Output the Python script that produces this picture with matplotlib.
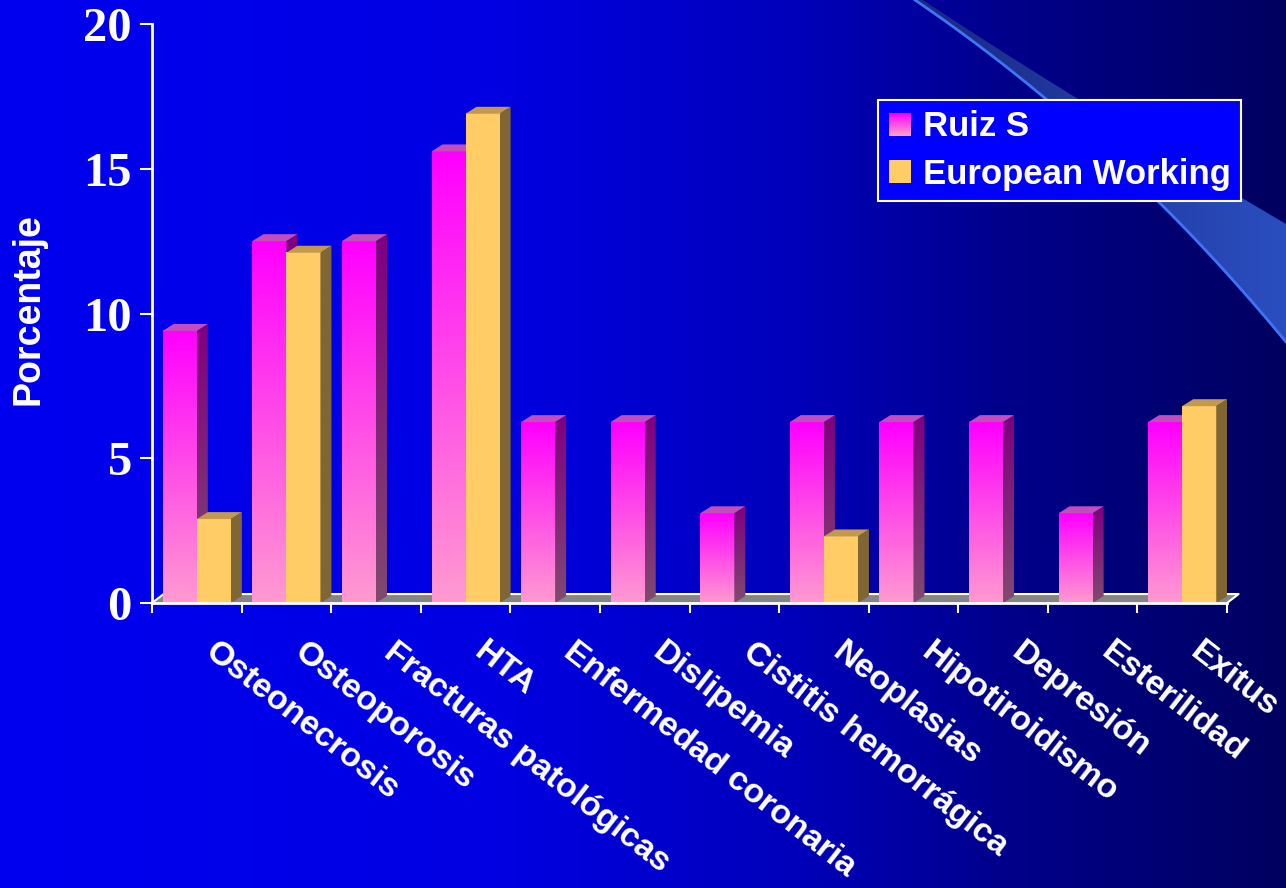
import numpy as np
import matplotlib
matplotlib.use('Agg')
import matplotlib.pyplot as plt
from matplotlib.patches import Polygon, Rectangle, Patch
from matplotlib.legend_handler import HandlerBase
from matplotlib.font_manager import FontProperties

# data
categories = ['Osteonecrosis', 'Osteoporosis', 'Fracturas patológicas', 'HTA',
              'Enfermedad coronaria', 'Dislipemia', 'Cistitis hemorrágica',
              'Neoplasias', 'Hipotiroidismo', 'Depresión', 'Esterilidad', 'Exitus']
ruiz = [9.4, 12.5, 12.5, 15.6, 6.25, 6.25, 3.1, 6.25, 6.25, 6.25, 3.1, 6.25]
european = [2.9, 12.1, 0, 16.9, 0, 0, 0, 2.3, 0, 0, 0, 6.8]
series_names = ['Ruiz S', 'European Working']
yticks = [0, 5, 10, 15, 20]

W, H = 1286, 888
sans = 'Liberation Sans'
serif = 'Liberation Serif'

fig = plt.figure(figsize=(W / 100, H / 100), dpi=100)

# ---- background: horizontal blue gradient + swoosh ----
bg = fig.add_axes([0, 0, 1, 1])
xs = np.arange(W)
blue = np.interp(xs, [0, 500, 800, 1000, W], [240, 226, 185, 140, 95]) / 255
grad = np.zeros((2, W, 3))
grad[:, :, 2] = blue
bg.imshow(grad, extent=(0, W, H, 0), aspect='auto', interpolation='bilinear')


def bez(p0, p1, p2, n=80):
    t = np.linspace(0, 1, n)[:, None]
    return (1 - t) ** 2 * np.array(p0) + 2 * (1 - t) * t * np.array(p1) + t ** 2 * np.array(p2)


lower = bez((915, 0), (1119, 139), (W, 342))
upper = bez((923, 0), (1055, 88), (W, 224))
band = Polygon(np.vstack([upper, lower[::-1]]), closed=True, fc='none', ec='none')
bg.add_patch(band)
bcols = np.array([np.linspace(25, 42, 100), np.linspace(40, 78, 100), np.linspace(130, 192, 100)]).T / 255
sw = bg.imshow(np.stack([bcols, bcols]), extent=(910, W, 350, 0), aspect='auto', interpolation='bilinear')
sw.set_clip_path(band)
bg.plot(lower[:, 0], lower[:, 1], color=(0.25, 0.45, 0.97), lw=2)
bg.set_xlim(0, W)
bg.set_ylim(H, 0)
bg.axis('off')

# ---- main axes ----
ax = fig.add_axes([152 / W, 285 / H, 1075 / W, 579 / H])
ax.set_facecolor('none')

bar_w = 0.38
dx, dy = 0.123, 0.24
fdx, fdy = 0.13, 0.31
n = len(categories)

# floor
ax.add_patch(Polygon([(-0.5, 0), (-0.5 + fdx, fdy), (n - 0.5 + fdx, fdy), (n - 0.5, 0)],
                     closed=True, fc=(0.52, 0.52, 0.52), ec='none', zorder=1, clip_on=False))
ax.plot([-0.5, -0.5 + fdx, n - 0.5 + fdx, n - 0.5], [0, fdy, fdy, 0], color='white',
        lw=1.5, zorder=1.5, clip_on=False)

mag = dict(ft=(1.0, 0.0, 1.0), fb=(1.0, 0.6, 0.82), st=(0.50, 0.0, 0.50),
           sb=(0.50, 0.29, 0.43), top=(0.76, 0.30, 0.74))
yel = dict(ft=(1.0, 0.8, 0.4), fb=(1.0, 0.8, 0.4), st=(0.5, 0.4, 0.2),
           sb=(0.5, 0.4, 0.2), top=(0.76, 0.6, 0.3))


def bar3d(x0, h, c, z):
    x1 = x0 + bar_w
    g = np.linspace(c['fb'], c['ft'], 60)[:, None, :]
    ax.imshow(g, extent=(x0, x1, 0, h), origin='lower', aspect='auto',
              interpolation='bilinear', zorder=z)
    side = Polygon([(x1, 0), (x1 + dx, dy), (x1 + dx, h + dy), (x1, h)], closed=True,
                   fc='none', ec='none', zorder=z)
    ax.add_patch(side)
    gs = np.linspace(c['sb'], c['st'], 60)[:, None, :]
    im = ax.imshow(gs, extent=(x1, x1 + dx, 0, h + dy), origin='lower', aspect='auto',
                   interpolation='bilinear', zorder=z)
    im.set_clip_path(side)
    ax.add_patch(Polygon([(x0, h), (x0 + dx, h + dy), (x1 + dx, h + dy), (x1, h)],
                         closed=True, fc=c['top'], ec='none', zorder=z))


z = 2
for i in range(n):
    if ruiz[i] > 0:
        bar3d(i - bar_w, ruiz[i], mag, z)
    z += 0.01
    if european[i] > 0:
        bar3d(i, european[i], yel, z)
    z += 0.01

ax.set_xlim(-0.5, n - 0.5)
ax.set_ylim(0, 20)

for s in ['top', 'right']:
    ax.spines[s].set_visible(False)
for s in ['left', 'bottom']:
    ax.spines[s].set_color('white')
    ax.spines[s].set_linewidth(2)
    ax.spines[s].set_zorder(3)

ax.set_yticks(yticks)
ax.set_yticklabels([str(v) for v in yticks], fontfamily=serif, fontweight='bold',
                   fontsize=35, color='white')
ax.tick_params(axis='y', colors='white', length=8.6, width=1.5, pad=6)
ax.set_xticks(np.arange(-0.5, n, 1))
ax.set_xticklabels([])
ax.tick_params(axis='x', colors='white', length=7.5, width=1.5)

for i, name in enumerate(categories):
    ax.text(i + 0.24, -0.058, name, transform=ax.get_xaxis_transform(), rotation=-38,
            rotation_mode='anchor', ha='left', va='top', fontsize=24.5, fontweight='bold',
            family=sans, color='white')

fig.text(29 / W, 1 - 309 / H, 'Porcentaje', rotation=90, ha='center', va='center',
         fontsize=27, fontweight='bold', family=sans, color='white')


# ---- legend ----
class GradHandler(HandlerBase):
    def __init__(self, c_top, c_bot):
        super().__init__()
        self.c_top, self.c_bot = np.array(c_top), np.array(c_bot)

    def create_artists(self, legend, orig_handle, xdescent, ydescent, width, height,
                       fontsize, trans):
        k = 12
        arts = []
        for j in range(k):
            col = self.c_top + (self.c_bot - self.c_top) * j / (k - 1)
            arts.append(Rectangle((-xdescent, -ydescent + height * (k - 1 - j) / k), width,
                                  height / k, fc=col, ec='none', transform=trans))
        return arts


h1 = Patch(label=series_names[0])
h2 = Patch(label=series_names[1])
leg = fig.legend([h1, h2], series_names, loc='upper right',
                 bbox_to_anchor=(1241 / W, 1 - 100 / H), bbox_transform=fig.transFigure,
                 frameon=True, fancybox=False, facecolor='#0000FF', edgecolor='white',
                 framealpha=1, prop=FontProperties(family=sans, weight='bold', size=25),
                 labelcolor='white', handlelength=0.64, handleheight=0.64,
                 handletextpad=0.34, borderpad=0.3, labelspacing=0.42, borderaxespad=0,
                 handler_map={h1: GradHandler(mag['ft'], mag['fb']),
                              h2: GradHandler(yel['ft'], yel['fb'])})
leg.get_frame().set_linewidth(1.5)

fig.savefig('out.png', dpi=100)
